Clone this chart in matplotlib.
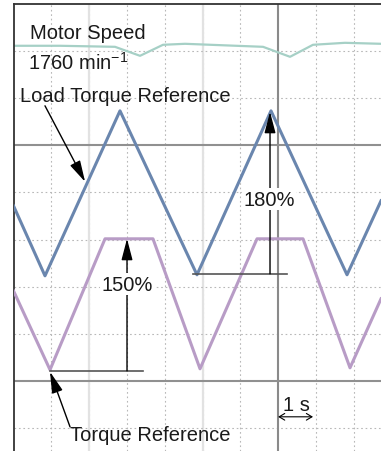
import matplotlib
matplotlib.use("Agg")
import matplotlib.pyplot as plt
from matplotlib.patches import FancyArrowPatch

plt.rcParams['font.family'] = ['Liberation Sans', 'DejaVu Sans']
plt.rcParams['mathtext.default'] = 'regular'

# ---- data (time in s = divisions, level in vertical divisions; 0 = lower heavy line) ----
load_t = [0.0, 0.833, 2.817, 4.854, 6.812, 8.823, 9.722]
load_y = [3.716, 2.229, 5.732, 2.251, 5.732, 2.251, 3.822]

torque_t = [0.0, 0.966, 2.421, 3.690, 4.934, 6.442, 7.659, 8.902, 9.722]
torque_y = [1.911, 0.234, 3.015, 3.015, 0.255, 3.015, 3.015, 0.276, 1.741]

speed_t = [0.0, 1.230, 2.685, 3.347, 3.955, 4.537, 6.601, 7.315, 7.923, 8.770, 9.722]
speed_y = [7.113, 7.113, 7.091, 6.900, 7.134, 7.155, 7.091, 6.879, 7.134, 7.176, 7.155]

label_speed = "Motor Speed"
label_speed_val = r"1760 min$^{-1}$"
label_load = "Load Torque Reference"
label_torque = "Torque Reference"
label_180 = "180%"
label_150 = "150%"
label_time = "1 s"

W, H = 381, 452
fig = plt.figure(figsize=(W / 100, H / 100), dpi=100)
fig.patch.set_facecolor('white')
left_px, top_px = 13.5, 5
ax = fig.add_axes([left_px / W, 0, (W - left_px) / W, (H - top_px) / H])
ax.set_xlim(0, 9.722)
ax.set_ylim(-1.49, 8.0)
ax.set_xticks([]); ax.set_yticks([])
for s in ['right', 'bottom']:
    ax.spines[s].set_visible(False)
for s in ['left', 'top']:
    ax.spines[s].set_color('#333333')
    ax.spines[s].set_linewidth(1.3)

# grid
for gx in range(1, 10):
    if gx == 7:
        continue
    ax.axvline(gx, color='#b8b8b8', lw=0.8, ls=(0, (1.5, 2.5)), zorder=0)
for gx in [2, 5]:
    ax.axvline(gx, color='#e2e2e2', lw=1.6, zorder=0)
for gy in [-1, 1, 2, 3, 4, 6, 7]:
    ax.axhline(gy, color='#b8b8b8', lw=0.8, ls=(0, (1.5, 2.5)), zorder=0)
ax.axvline(7, color='#8a8a8a', lw=1.5, zorder=1)
for gy in [0, 5]:
    ax.axhline(gy, color='#909090', lw=1.5, zorder=1)

# traces
ax.plot(speed_t, speed_y, color='#a6d0c6', lw=1.6, zorder=2)
ax.plot(load_t, load_y, color='#6a86ae', lw=2.2, zorder=3)
ax.plot(torque_t, torque_y, color='#b89cc6', lw=2.2, zorder=3)

# measurement lines
ax.plot([4.749, 7.235], [2.272, 2.272], color='#555555', lw=1.2, zorder=4)
ax.plot([0.966, 3.426], [0.212, 0.212], color='#555555', lw=1.2, zorder=4)

def arrow(p0, p1, style='-|>', lw=1.0, **kw):
    a = FancyArrowPatch(p0, p1, arrowstyle=style, mutation_scale=20,
                        color='black', lw=lw, shrinkA=0, shrinkB=0, zorder=5, **kw)
    ax.add_patch(a)

head = '-|>,head_length=0.65,head_width=0.17'
arrow((6.786, 2.272), (6.786, 5.711), head)
arrow((3.003, 0.212), (3.003, 3.015), head)
arrow((0.833, 5.839), (1.894, 4.225), head)
arrow((1.495, -0.977), (0.966, 0.191), head)
arrow((7.0, -0.764), (7.923, -0.764), '<->,head_length=0.2,head_width=0.12', lw=0.8)

fs = 14.5
tc = '#1a1a1a'
ax.text(0.437, 7.40, label_speed, fontsize=fs, va='center', ha='left', color=tc, zorder=6)
ax.text(0.384, 6.78, label_speed_val, fontsize=fs, va='center', ha='left', color=tc, zorder=6)
ax.text(0.172, 6.06, label_load, fontsize=fs, va='center', ha='left', color=tc, zorder=6)
ax.text(1.495, -1.13, label_torque, fontsize=fs, va='center', ha='left', color=tc, zorder=6)
bg = dict(facecolor='white', edgecolor='none', pad=1.0)
ax.text(6.759, 3.86, label_180, fontsize=fs, va='center', ha='center', color=tc, zorder=6, bbox=bg)
ax.text(3.003, 2.05, label_150, fontsize=fs, va='center', ha='center', color=tc, zorder=6, bbox=bg)
ax.text(7.474, -0.50, label_time, fontsize=fs, va='center', ha='center', color=tc, zorder=6)

fig.savefig('out.png', dpi=100, facecolor='white')
